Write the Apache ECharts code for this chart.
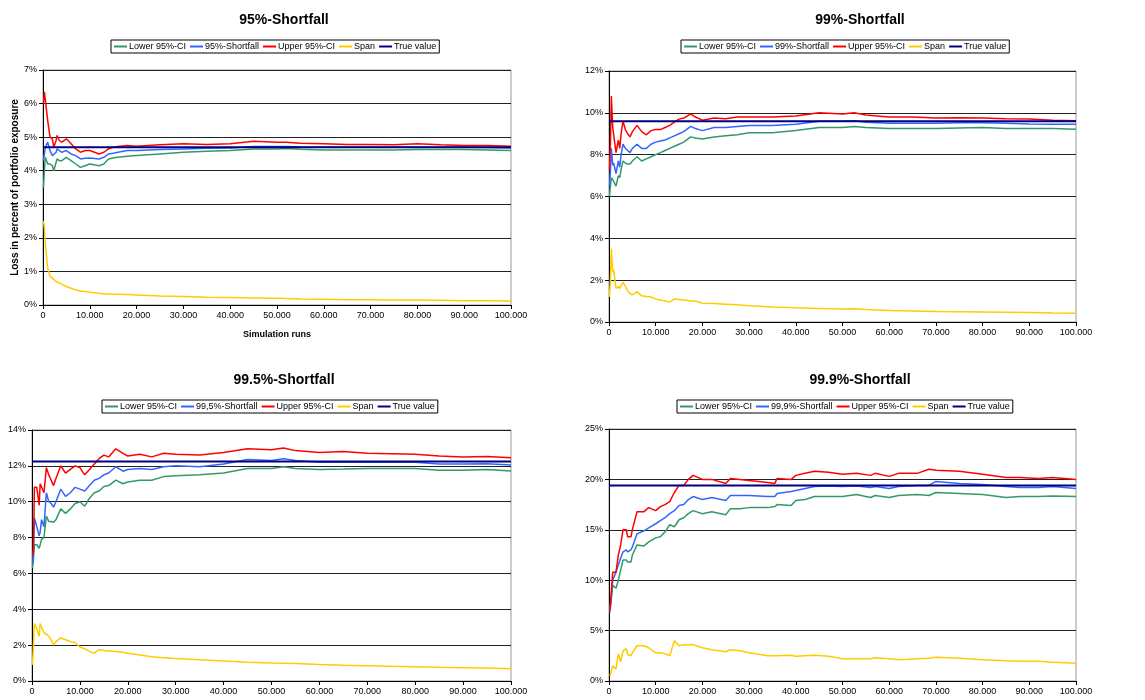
<!DOCTYPE html>
<html><head><meta charset="utf-8">
<script src="https://cdn.jsdelivr.net/npm/echarts@6/dist/echarts.min.js"></script>
<style>html,body{margin:0;padding:0;background:#fff}#c{width:1145px;height:700px}</style>
</head><body><div id="c"></div>
<script>
// ---------- DATA (values in percent of portfolio exposure) ----------
const chartTitles = ['95%-Shortfall', '99%-Shortfall', '99.5%-Shortfall', '99.9%-Shortfall'];
const estimateNames = ['95%-Shortfall', '99%-Shortfall', '99,5%-Shortfall', '99,9%-Shortfall'];
const trueValues = [4.7, 9.6, 12.25, 19.4];
const yMaxes = [7, 12, 14, 25];
const yIntervals = [1, 2, 2, 5];

// Chart 1: 95%
const runs1 = [100, 300, 500, 1000, 1500, 2000, 2300, 2800, 3000, 3500, 4000, 5000, 6000, 7000, 8000, 9000, 10000, 12000, 13000, 14000, 15000, 16000, 18000, 20000, 25000, 30000, 35000, 40000, 45000, 50000, 52000, 55000, 60000, 65000, 70000, 75000, 80000, 85000, 90000, 95000, 100000];
const lower1 = [3.5, 4.0, 4.4, 4.2, 4.2, 4.15, 4.0, 4.25, 4.35, 4.3, 4.3, 4.4, 4.3, 4.2, 4.1, 4.15, 4.2, 4.15, 4.2, 4.35, 4.38, 4.4, 4.43, 4.45, 4.5, 4.55, 4.58, 4.6, 4.65, 4.65, 4.66, 4.64, 4.62, 4.62, 4.62, 4.62, 4.63, 4.63, 4.63, 4.62, 4.6];
const est1 = [4.3, 4.5, 4.7, 4.85, 4.6, 4.45, 4.45, 4.55, 4.65, 4.6, 4.55, 4.6, 4.5, 4.45, 4.35, 4.37, 4.38, 4.35, 4.4, 4.5, 4.52, 4.55, 4.6, 4.6, 4.63, 4.65, 4.67, 4.68, 4.72, 4.72, 4.72, 4.71, 4.7, 4.7, 4.7, 4.7, 4.7, 4.7, 4.7, 4.69, 4.68];
const upper1 = [6.0, 6.35, 6.4, 5.5, 5.0, 4.95, 4.7, 4.9, 5.05, 4.9, 4.85, 4.95, 4.8, 4.65, 4.55, 4.6, 4.6, 4.5, 4.55, 4.65, 4.7, 4.72, 4.75, 4.73, 4.77, 4.8, 4.78, 4.8, 4.88, 4.85, 4.85, 4.82, 4.8, 4.78, 4.78, 4.77, 4.8, 4.77, 4.75, 4.75, 4.73];
const span1 = [2.5, 2.3, 1.8, 1.1, 0.85, 0.8, 0.75, 0.7, 0.7, 0.65, 0.62, 0.55, 0.5, 0.45, 0.42, 0.4, 0.38, 0.35, 0.33, 0.33, 0.32, 0.32, 0.31, 0.3, 0.27, 0.25, 0.23, 0.22, 0.21, 0.2, 0.19, 0.18, 0.17, 0.16, 0.16, 0.15, 0.15, 0.14, 0.13, 0.13, 0.12];

// Chart 2: 99%
const runs2 = [100, 300, 500, 800, 1000, 1500, 2000, 2300, 2600, 3000, 3500, 4000, 4500, 5000, 6000, 7000, 8000, 9000, 10000, 11000, 12000, 13000, 14000, 15000, 16000, 17500, 18500, 20000, 22500, 25000, 27500, 30000, 35000, 40000, 45000, 50000, 52500, 55000, 60000, 65000, 70000, 75000, 80000, 85000, 90000, 95000, 100000];
const lower2 = [6.0, 6.5, 6.9, 6.8, 6.8, 6.5, 7.0, 6.9, 7.3, 7.7, 7.6, 7.55, 7.55, 7.7, 7.9, 7.7, 7.8, 7.9, 8.0, 8.1, 8.2, 8.3, 8.4, 8.5, 8.6, 8.85, 8.8, 8.75, 8.85, 8.9, 8.95, 9.05, 9.05, 9.15, 9.3, 9.3, 9.35, 9.3, 9.25, 9.25, 9.25, 9.28, 9.3, 9.25, 9.25, 9.25, 9.22];
const est2 = [6.5, 7.2, 8.3, 7.5, 7.6, 7.1, 7.7, 7.4, 8.0, 8.5, 8.3, 8.2, 8.1, 8.3, 8.5, 8.3, 8.3, 8.5, 8.6, 8.65, 8.7, 8.8, 8.9, 9.0, 9.1, 9.35, 9.25, 9.15, 9.3, 9.3, 9.35, 9.4, 9.4, 9.45, 9.6, 9.6, 9.62, 9.55, 9.5, 9.5, 9.5, 9.52, 9.52, 9.5, 9.47, 9.45, 9.45];
const upper2 = [7.3, 8.5, 10.8, 9.3, 9.3, 8.1, 8.7, 8.3, 9.0, 9.6, 9.2, 9.0, 8.85, 9.1, 9.4, 9.1, 8.95, 9.15, 9.2, 9.2, 9.3, 9.4, 9.55, 9.7, 9.75, 9.95, 9.8, 9.65, 9.75, 9.72, 9.8, 9.8, 9.8, 9.85, 10.0, 9.95, 10.0, 9.9, 9.8, 9.8, 9.75, 9.77, 9.75, 9.72, 9.7, 9.65, 9.62];
const span2 = [1.2, 2.0, 3.5, 2.4, 2.5, 1.6, 1.7, 1.6, 1.75, 1.9, 1.7, 1.5, 1.35, 1.3, 1.45, 1.25, 1.22, 1.2, 1.1, 1.05, 1.0, 0.95, 1.1, 1.08, 1.05, 1.0, 1.0, 0.9, 0.88, 0.85, 0.82, 0.78, 0.72, 0.68, 0.65, 0.62, 0.63, 0.6, 0.55, 0.53, 0.5, 0.49, 0.48, 0.47, 0.45, 0.43, 0.42];

// Chart 3: 99.5%
const runs3 = [100, 300, 500, 1000, 1500, 1700, 2000, 2500, 3000, 3500, 4000, 4500, 5000, 6000, 7000, 8000, 9000, 10000, 11000, 12000, 13000, 14000, 15000, 16000, 17500, 19000, 20000, 22500, 25000, 27500, 30000, 35000, 40000, 45000, 50000, 52500, 55000, 60000, 65000, 70000, 75000, 80000, 85000, 90000, 95000, 100000];
const lower3 = [6.3, 6.8, 7.6, 7.6, 7.4, 7.6, 7.9, 8.0, 9.2, 8.9, 8.9, 8.85, 9.0, 9.6, 9.35, 9.6, 9.9, 10.0, 9.75, 10.2, 10.5, 10.6, 10.85, 10.9, 11.2, 11.0, 11.1, 11.2, 11.2, 11.4, 11.45, 11.5, 11.6, 11.85, 11.85, 11.95, 11.85, 11.8, 11.82, 11.85, 11.85, 11.85, 11.75, 11.75, 11.8, 11.72];
const est3 = [6.5, 7.2, 9.1, 8.6, 8.1, 8.3, 9.0, 8.6, 10.5, 10.0, 9.9, 9.7, 10.0, 10.7, 10.3, 10.5, 10.8, 10.7, 10.6, 10.9, 11.2, 11.3, 11.5, 11.6, 11.95, 11.7, 11.8, 11.85, 11.8, 11.95, 12.0, 11.95, 12.1, 12.35, 12.3, 12.4, 12.3, 12.2, 12.2, 12.2, 12.22, 12.2, 12.1, 12.1, 12.12, 12.05];
const upper3 = [7.0, 7.3, 10.8, 10.8, 9.8, 11.0, 11.0, 10.5, 11.9, 11.5, 11.2, 10.9, 11.3, 12.0, 11.6, 11.8, 12.0, 11.9, 11.5, 11.8, 12.1, 12.4, 12.6, 12.5, 12.95, 12.7, 12.55, 12.65, 12.5, 12.7, 12.65, 12.6, 12.75, 12.95, 12.9, 13.0, 12.85, 12.75, 12.8, 12.7, 12.68, 12.65, 12.55, 12.5, 12.52, 12.45];
const span3 = [0.9, 2.0, 3.2, 2.9, 2.5, 3.2, 3.0, 2.7, 2.6, 2.5, 2.3, 2.0, 2.2, 2.4, 2.3, 2.2, 2.15, 1.9, 1.8, 1.65, 1.55, 1.75, 1.7, 1.68, 1.65, 1.6, 1.55, 1.45, 1.35, 1.3, 1.25, 1.18, 1.12, 1.05, 1.0, 0.99, 0.98, 0.92, 0.88, 0.85, 0.82, 0.8, 0.76, 0.74, 0.72, 0.68];

// Chart 4: 99.9%
const runs4 = [200, 800, 1500, 2000, 2500, 3000, 3700, 4000, 4700, 5000, 6000, 7500, 8500, 10000, 11000, 12000, 13000, 14000, 15000, 16000, 17000, 18000, 20000, 22000, 25000, 26000, 28000, 30000, 34000, 35500, 36000, 39000, 40000, 42000, 44000, 47000, 50000, 53000, 56000, 57000, 60000, 62000, 66000, 68500, 70000, 75000, 80000, 85000, 88000, 92000, 95000, 100000];
const lower4 = [6.8, 9.5, 9.2, 10.0, 11.0, 12.0, 12.0, 11.8, 11.8, 12.5, 13.5, 13.4, 13.8, 14.2, 14.3, 14.8, 15.5, 15.3, 16.0, 16.2, 16.6, 16.9, 16.6, 16.8, 16.5, 17.1, 17.1, 17.2, 17.2, 17.3, 17.5, 17.4, 17.9, 18.0, 18.3, 18.3, 18.3, 18.5, 18.2, 18.4, 18.2, 18.4, 18.5, 18.4, 18.7, 18.6, 18.5, 18.2, 18.3, 18.3, 18.35, 18.3];
const est4 = [7.0, 10.0, 10.8, 11.5, 12.2, 12.8, 13.0, 12.8, 13.0, 13.3, 14.6, 14.9, 15.2, 15.6, 15.9, 16.2, 16.6, 16.9, 17.4, 17.5, 18.0, 18.3, 18.0, 18.2, 17.9, 18.4, 18.4, 18.4, 18.3, 18.3, 18.6, 18.8, 18.9, 19.1, 19.3, 19.35, 19.3, 19.35, 19.2, 19.3, 19.1, 19.3, 19.4, 19.4, 19.8, 19.6, 19.5, 19.3, 19.2, 19.2, 19.3, 19.1];
const upper4 = [7.0, 10.8, 10.8, 12.5, 13.5, 15.0, 15.0, 14.3, 14.3, 15.0, 16.8, 16.8, 17.2, 16.9, 17.3, 17.5, 17.8, 18.7, 19.4, 19.4, 20.0, 20.4, 20.0, 20.0, 19.6, 20.1, 20.0, 19.9, 19.7, 19.6, 20.1, 20.0, 20.4, 20.6, 20.8, 20.7, 20.5, 20.6, 20.4, 20.6, 20.3, 20.6, 20.6, 21.0, 20.9, 20.8, 20.5, 20.2, 20.2, 20.1, 20.2, 20.0];
const span4 = [0.5, 1.5, 1.2, 2.7, 1.9, 3.0, 3.2, 2.6, 2.5, 2.8, 3.5, 3.5, 3.3, 2.8, 2.8, 2.7, 2.5, 4.0, 3.5, 3.6, 3.6, 3.6, 3.3, 3.1, 2.9, 3.1, 3.0, 2.8, 2.5, 2.5, 2.5, 2.55, 2.45, 2.5, 2.55, 2.45, 2.2, 2.2, 2.2, 2.3, 2.2, 2.1, 2.2, 2.25, 2.35, 2.25, 2.1, 2.0, 1.95, 1.95, 1.85, 1.75];

const xMin = 0, xMax = 100000, xInterval = 10000;

// ---------- LAYOUT ----------
const charts = [
  {runs: runs1, lower: lower1, est: est1, upper: upper1, span: span1},
  {runs: runs2, lower: lower2, est: est2, upper: upper2, span: span2},
  {runs: runs3, lower: lower3, est: est3, upper: upper3, span: span3},
  {runs: runs4, lower: lower4, est: est4, upper: upper4, span: span4}
];
const grids = [
  {left: 43, top: 70, width: 468, height: 235},
  {left: 609, top: 71, width: 467, height: 251},
  {left: 32, top: 430, width: 479, height: 251},
  {left: 609, top: 429, width: 467, height: 252}
];
const titlePos = [{x: 279, y: 8}, {x: 855, y: 8}, {x: 279, y: 368}, {x: 855, y: 368}];
const legendPos = [{x: 111, y: 40}, {x: 681, y: 40}, {x: 102, y: 400}, {x: 677, y: 400}];

const COLORS = {lower: '#339966', est: '#3366FF', upper: '#FF0000', span: '#FFCC00', truth: '#000080'};
const FONT = 'Liberation Sans, Arial, sans-serif';

function pairs(xs, ys) { return xs.map((x, i) => [x, ys[i]]); }

const option = {
  animation: false,
  backgroundColor: '#fff',
  title: [], legend: [], grid: [], xAxis: [], yAxis: [], series: []
};

charts.forEach((c, i) => {
  option.title.push({
    text: chartTitles[i], left: titlePos[i].x, top: titlePos[i].y, textAlign: 'center',
    textStyle: {fontFamily: FONT, fontSize: 14, fontWeight: 'bold', color: '#000'}
  });
  option.legend.push({
    left: legendPos[i].x, top: legendPos[i].y,
    data: ['Lower 95%-CI', estimateNames[i], 'Upper 95%-CI', 'Span', 'True value'],
    icon: 'rect', itemWidth: 13, itemHeight: 2, itemGap: 4,
    borderColor: '#000', borderWidth: 1, padding: [2, 3, 2, 3],
    selectedMode: false,
    textStyle: {fontFamily: FONT, fontSize: 9, color: '#000', padding: [0, 0, 0, -3]}
  });
  option.grid.push(Object.assign({show: true, borderColor: '#999', borderWidth: 1, backgroundColor: 'transparent', containLabel: false}, grids[i]));
  option.xAxis.push({
    type: 'value', gridIndex: i, min: xMin, max: xMax, interval: xInterval,
    name: i === 0 ? 'Simulation runs' : '', nameLocation: 'middle', nameGap: 25,
    nameTextStyle: {fontFamily: FONT, fontSize: 9, fontWeight: 'bold', color: '#000'},
    axisLine: {show: true, lineStyle: {color: '#000', width: 1}},
    axisTick: {show: true, length: 4, lineStyle: {color: '#000'}},
    splitLine: {show: false},
    axisLabel: {fontFamily: FONT, fontSize: 9, color: '#000', margin: 6,
      formatter: v => v === 0 ? '0' : (v / 1000) + '.000'}
  });
  option.yAxis.push({
    type: 'value', gridIndex: i, min: 0, max: yMaxes[i], interval: yIntervals[i],
    name: i === 0 ? 'Loss in percent of portfolio exposure' : '', nameLocation: 'middle', nameGap: 23,
    nameTextStyle: {fontFamily: FONT, fontSize: 10, fontWeight: 'bold', color: '#000'},
    axisLine: {show: true, lineStyle: {color: '#000', width: 1}},
    axisTick: {show: true, length: 4, lineStyle: {color: '#000'}},
    splitLine: {show: true, lineStyle: {color: '#222', width: 1}},
    axisLabel: {fontFamily: FONT, fontSize: 9, color: '#000', margin: 6, formatter: v => v + '%'}
  });
  const base = {type: 'line', xAxisIndex: i, yAxisIndex: i, showSymbol: false, symbol: 'none', silent: true};
  option.series.push(Object.assign({}, base, {name: 'Lower 95%-CI', data: pairs(c.runs, c.lower), color: COLORS.lower, lineStyle: {width: 1.5, color: COLORS.lower}}));
  option.series.push(Object.assign({}, base, {name: estimateNames[i], data: pairs(c.runs, c.est), color: COLORS.est, lineStyle: {width: 1.5, color: COLORS.est}}));
  option.series.push(Object.assign({}, base, {name: 'Upper 95%-CI', data: pairs(c.runs, c.upper), color: COLORS.upper, lineStyle: {width: 1.5, color: COLORS.upper}}));
  option.series.push(Object.assign({}, base, {name: 'Span', data: pairs(c.runs, c.span), color: COLORS.span, lineStyle: {width: 1.5, color: COLORS.span}}));
  option.series.push(Object.assign({}, base, {name: 'True value', data: [[xMin, trueValues[i]], [xMax, trueValues[i]]], color: COLORS.truth, lineStyle: {width: 2, color: COLORS.truth}}));
});

const chart = echarts.init(document.getElementById('c'), null, {renderer: 'canvas'});
chart.setOption(option);
</script>
</body></html>
